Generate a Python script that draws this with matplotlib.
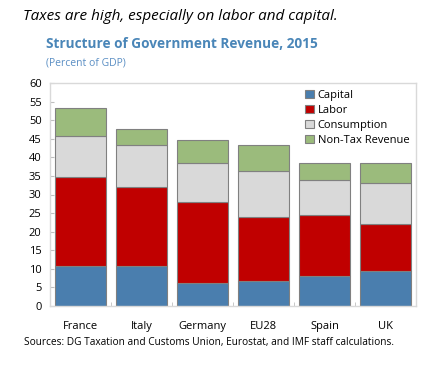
import matplotlib
matplotlib.use("Agg")
import matplotlib.pyplot as plt
import numpy as np

countries = ["France", "Italy", "Germany", "EU28", "Spain", "UK"]
capital = [10.7, 10.8, 6.2, 6.8, 8.0, 9.4]
labor = [24.0, 21.2, 21.9, 17.2, 16.4, 12.7]
consumption = [11.1, 11.2, 10.4, 12.3, 9.5, 11.0]
nontax = [7.4, 4.5, 6.1, 7.0, 4.6, 5.3]
series_names = ["Capital", "Labor", "Consumption", "Non-Tax Revenue"]
yticks = list(range(0, 61, 5))

colors = ["#4A7EAE", "#C00000", "#D9D9D9", "#9BBB7C"]
plt.rcParams['font.family'] = ['Open Sans', 'DejaVu Sans']

fig = plt.figure(figsize=(4.27, 3.65), dpi=100)
ax = fig.add_axes([50/427, 1-306/365, 366/427, 223/365])

x = np.arange(len(countries))
bottom = np.zeros(len(countries))
for vals, c, name in zip([capital, labor, consumption, nontax], colors, series_names):
    ax.bar(x, vals, bottom=bottom, width=0.84, color=c, edgecolor="#808080",
           linewidth=0.8, label=name)
    bottom += np.array(vals)

ax.set_xlim(-0.5, len(countries) - 0.5)
ax.set_ylim(0, 60)
ax.set_yticks(yticks)
ax.set_xticks(x)
ax.set_xticklabels(countries, fontsize=8)
ax.tick_params(axis='x', length=0, pad=11)
ax.set_xticks(np.arange(0.5, len(countries) - 0.5, 1), minor=True)
ax.tick_params(axis='x', which='minor', direction='in', length=3, color="#BFBFBF")
ax.tick_params(axis='y', direction='in', length=3, color="#BFBFBF", labelsize=8, pad=6)
for s in ax.spines.values():
    s.set_color("#D9D9D9")
    s.set_linewidth(1)

leg = ax.legend(loc='upper right', bbox_to_anchor=(1.0, 1.0), frameon=False,
                fontsize=8, handlelength=0.8, handleheight=0.8, handletextpad=0.3,
                labelspacing=0.35, borderaxespad=0.2)

fig.text(23/427, 1-17/365, "Taxes are high, especially on labor and capital.",
         style='italic', fontsize=11, va='center', ha='left', color='black')
fig.text(46/427, 1-44/365, "Structure of Government Revenue, 2015",
         fontweight='bold', fontsize=9.8, va='center', ha='left', color='#4A86B8')
fig.text(46/427, 1-63/365, "(Percent of GDP)", fontsize=7.5, va='center',
         ha='left', color='#5B8FC4')
fig.text(24/427, 1-343/365,
         "Sources: DG Taxation and Customs Union, Eurostat, and IMF staff calculations.",
         fontsize=7.3, va='center', ha='left', color='black')

fig.savefig("out.png", dpi=100)
